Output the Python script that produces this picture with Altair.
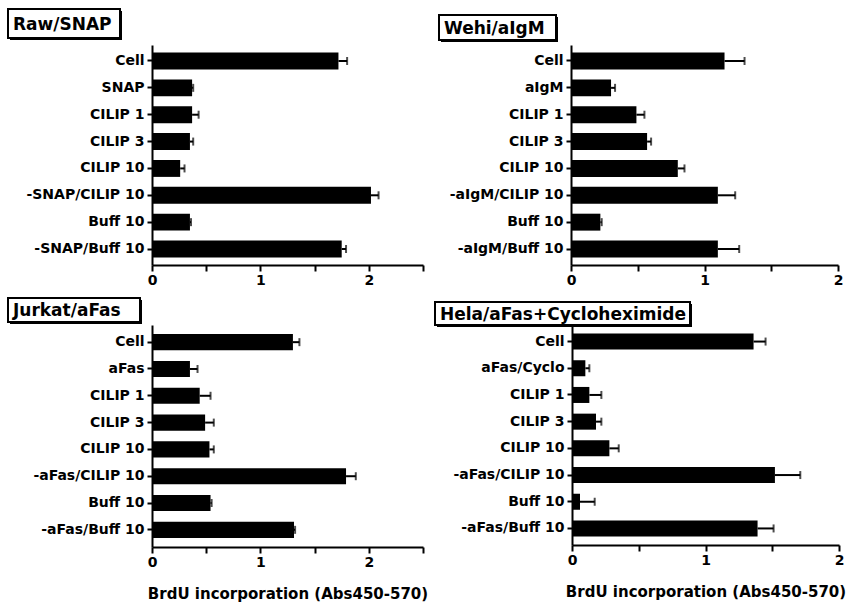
import altair as alt
import pandas as pd

FONT = "DejaVu Sans"

# ---------------- data ----------------
titles = ["Raw/SNAP", "Wehi/aIgM", "Jurkat/aFas", "Hela/aFas+Cycloheximide"]

cats_raw = ["Cell", "SNAP", "CILIP 1", "CILIP 3", "CILIP 10", "-SNAP/CILIP 10", "Buff 10", "-SNAP/Buff 10"]
vals_raw = [1.72, 0.37, 0.37, 0.35, 0.26, 2.02, 0.35, 1.75]
errs_raw = [0.08, 0.01, 0.06, 0.03, 0.04, 0.07, 0.01, 0.04]

cats_wehi = ["Cell", "aIgM", "CILIP 1", "CILIP 3", "CILIP 10", "-aIgM/CILIP 10", "Buff 10", "-aIgM/Buff 10"]
vals_wehi = [1.15, 0.30, 0.49, 0.57, 0.80, 1.10, 0.22, 1.10]
errs_wehi = [0.15, 0.03, 0.06, 0.03, 0.05, 0.13, 0.01, 0.16]

cats_jurkat = ["Cell", "aFas", "CILIP 1", "CILIP 3", "CILIP 10", "-aFas/CILIP 10", "Buff 10", "-aFas/Buff 10"]
vals_jurkat = [1.30, 0.35, 0.44, 0.49, 0.53, 1.79, 0.54, 1.31]
errs_jurkat = [0.06, 0.07, 0.10, 0.08, 0.04, 0.09, 0.01, 0.01]

cats_hela = ["Cell", "aFas/Cyclo", "CILIP 1", "CILIP 3", "CILIP 10", "-aFas/CILIP 10", "Buff 10", "-aFas/Buff 10"]
vals_hela = [1.36, 0.10, 0.13, 0.18, 0.28, 1.52, 0.06, 1.39]
errs_hela = [0.09, 0.03, 0.09, 0.04, 0.07, 0.19, 0.11, 0.12]

x_title = "BrdU incorporation (Abs450-570)"

# ---------------- layout (not data) ----------------
layout = {
    "Raw/SNAP": dict(xmax=2.5, width=271, height=220, pin=0.37, pout=0.28, box=(-144, -32, -36, -7), xt=False),
    "Wehi/aIgM": dict(xmax=2.0, width=267, height=220, pin=0.37, pout=0.28, box=(-132, -15, -30, -5), xt=False),
    "Jurkat/aFas": dict(xmax=2.5, width=271, height=222, pin=0.40, pout=0.34, box=(-144, -12, -27, -3), xt=True),
    "Hela/aFas+Cycloheximide": dict(xmax=2.0, width=267, height=220, pin=0.40, pout=0.32, box=(-137, 118, -23, 0), xt=True),
}


def panel(title, cats, vals, errs):
    L = layout[title]
    df = pd.DataFrame({"cat": cats, "val": vals, "err": errs})
    df["hi"] = df["val"] + df["err"]
    nt = int(round(L["xmax"] / 0.5))
    tick_vals = [i * 0.5 for i in range(nt + 1)]
    xscale = alt.Scale(domain=[0, L["xmax"]], nice=False, zero=True)
    yscale = alt.Scale(paddingInner=L["pin"], paddingOuter=L["pout"])
    xaxis = alt.Axis(
        values=tick_vals,
        labelExpr="datum.value % 1 === 0 ? format(datum.value, 'd') : ''",
        labelOverlap=False,
        labelFlush=False,
        title=x_title if L["xt"] else None,
        titlePadding=17,
    )
    yaxis = alt.Axis(title=None, labelPadding=3, tickSize=5)
    ysort = alt.Y("cat:N", sort=cats, scale=yscale, axis=yaxis)
    base = alt.Chart(df)
    bars = base.mark_bar(color="black").encode(
        x=alt.X("val:Q", scale=xscale, axis=xaxis), y=ysort
    )
    rule = base.mark_rule(color="black", strokeWidth=2).encode(
        x="val:Q", x2="hi:Q", y=alt.Y("cat:N", sort=cats)
    )
    cap = base.mark_tick(color="black", thickness=2, size=8, orient="vertical").encode(
        x="hi:Q", y=alt.Y("cat:N", sort=cats)
    )
    x1, x2, y1, y2 = L["box"]
    tdf = pd.DataFrame({"t": [title]})
    shadow = alt.Chart(tdf).mark_rect(fill="black").encode(
        x=alt.value(x1 + 2), x2=alt.value(x2 + 2), y=alt.value(y1 + 2), y2=alt.value(y2 + 2)
    )
    box = alt.Chart(tdf).mark_rect(fill="white", stroke="black", strokeWidth=2).encode(
        x=alt.value(x1), x2=alt.value(x2), y=alt.value(y1), y2=alt.value(y2)
    )
    txt = alt.Chart(tdf).mark_text(
        align="left", baseline="middle", fontSize=17, fontWeight="bold", font=FONT, color="black"
    ).encode(x=alt.value(x1 + 5), y=alt.value((y1 + y2) / 2 + 1), text="t:N")
    return alt.layer(bars, rule, cap, shadow, box, txt).properties(
        width=L["width"], height=L["height"]
    )


p1 = panel(titles[0], cats_raw, vals_raw, errs_raw)
p2 = panel(titles[1], cats_wehi, vals_wehi, errs_wehi)
p3 = panel(titles[2], cats_jurkat, vals_jurkat, errs_jurkat)
p4 = panel(titles[3], cats_hela, vals_hela, errs_hela)

chart = alt.vconcat(
    alt.hconcat(p1, p2, spacing=14),
    alt.hconcat(p3, p4, spacing=6),
    spacing=10,
).properties(
    padding={"left": 7, "top": 8, "right": 5, "bottom": 5},
    background="white",
).configure_view(stroke=None).configure_axis(
    domainColor="black", domainWidth=2, tickColor="black", tickWidth=2, tickSize=6,
    labelFont=FONT, labelFontSize=14, labelFontWeight="bold", labelColor="black",
    titleFont=FONT, titleFontSize=15, titleFontWeight="bold", titleColor="black",
    grid=False,
).configure_concat(spacing=10)

chart.save("out.html", embed_options={"renderer": "svg", "actions": False})
